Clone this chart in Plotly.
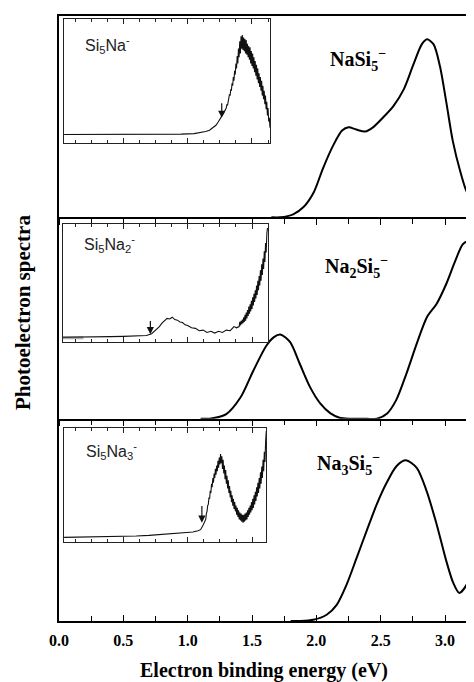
import plotly.graph_objects as go

# ---------------- data ----------------
TICK_VALS = [0.0, 0.5, 1.0, 1.5, 2.0, 2.5, 3.0]
TICK_TEXT = ["0.0", "0.5", "1.0", "1.5", "2.0", "2.5", "3.0"]

# NaSi5- (top panel)
TOP_E = [1.65, 1.72, 1.82, 1.90, 1.98, 2.05, 2.13, 2.20, 2.25, 2.31, 2.38, 2.44,
         2.52, 2.60, 2.68, 2.75, 2.82, 2.86, 2.91, 2.96, 3.01, 3.06, 3.12, 3.17, 3.225]
TOP_Y = [0.0, 0.0, 0.015, 0.051, 0.125, 0.241, 0.356, 0.431, 0.447, 0.436, 0.426, 0.447,
         0.497, 0.554, 0.637, 0.752, 0.860, 0.884, 0.860, 0.752, 0.571, 0.380, 0.224, 0.125, 0.076]

# Na2Si5- (middle panel)
MID_E = [1.10, 1.17, 1.30, 1.41, 1.51, 1.61, 1.67, 1.72, 1.795, 1.87, 1.95, 2.03, 2.11,
         2.18, 2.26, 2.36, 2.47, 2.55, 2.62, 2.70, 2.78, 2.86, 2.935, 3.01, 3.08, 3.14, 3.19, 3.225]
MID_Y = [0.0, 0.0, 0.023, 0.105, 0.238, 0.361, 0.405, 0.418, 0.381, 0.274, 0.158, 0.076, 0.026,
         0.005, 0.0, 0.0, 0.0, 0.026, 0.092, 0.224, 0.373, 0.505, 0.571, 0.670, 0.785, 0.868, 0.881, 0.868]

# Na3Si5- (bottom panel)
BOT_E = [1.80, 1.873, 1.976, 2.08, 2.158, 2.235, 2.313, 2.39, 2.469, 2.546, 2.624, 2.696,
         2.78, 2.857, 2.935, 3.01, 3.064, 3.11, 3.168, 3.225]
BOT_Y = [0.0, 0.0, 0.006, 0.031, 0.080, 0.180, 0.312, 0.444, 0.576, 0.683, 0.766, 0.794,
         0.757, 0.642, 0.477, 0.296, 0.188, 0.139, 0.180, 0.295]

# Inset spectra (energy, relative intensity), noisy parts read point by point
INSET_TOP = [(0.04, 0.065), (0.20, 0.065), (0.40, 0.066), (0.60, 0.066), (0.80, 0.067),
             (0.95, 0.068), (1.05, 0.072), (1.10, 0.080), (1.14, 0.090), (1.17, 0.100),
             (1.20, 0.120), (1.22, 0.140), (1.24, 0.170), (1.26, 0.200), (1.28, 0.240),
             (1.300, 0.28), (1.305, 0.31), (1.310, 0.30), (1.315, 0.34), (1.320, 0.35),
             (1.325, 0.39), (1.330, 0.38), (1.335, 0.43), (1.340, 0.42), (1.345, 0.48),
             (1.350, 0.46), (1.355, 0.53), (1.360, 0.50), (1.365, 0.58), (1.370, 0.55),
             (1.375, 0.64), (1.380, 0.60), (1.385, 0.70), (1.390, 0.64), (1.395, 0.76),
             (1.400, 0.69), (1.405, 0.82), (1.410, 0.72), (1.415, 0.86), (1.420, 0.76),
             (1.425, 0.87), (1.430, 0.75), (1.435, 0.85), (1.440, 0.74), (1.445, 0.84),
             (1.450, 0.72), (1.455, 0.83), (1.460, 0.71), (1.465, 0.80), (1.470, 0.69),
             (1.475, 0.78), (1.480, 0.67), (1.485, 0.77), (1.490, 0.64), (1.495, 0.74),
             (1.500, 0.62), (1.505, 0.72), (1.510, 0.60), (1.515, 0.69), (1.520, 0.57),
             (1.525, 0.66), (1.530, 0.54), (1.535, 0.63), (1.540, 0.51), (1.545, 0.60),
             (1.550, 0.48), (1.555, 0.56), (1.560, 0.45), (1.565, 0.53), (1.570, 0.42),
             (1.575, 0.50), (1.580, 0.38), (1.585, 0.46), (1.590, 0.35), (1.595, 0.42),
             (1.600, 0.31), (1.605, 0.38), (1.610, 0.27), (1.615, 0.33), (1.620, 0.22),
             (1.625, 0.28), (1.630, 0.17), (1.635, 0.20), (1.640, 0.12)]

INSET_MID = [(0.03, 0.040), (0.10, 0.040), (0.20, 0.042), (0.30, 0.043), (0.40, 0.045),
             (0.50, 0.047), (0.60, 0.050), (0.68, 0.055), (0.72, 0.070), (0.75, 0.100),
             (0.78, 0.130), (0.80, 0.160), (0.82, 0.180), (0.84, 0.200), (0.86, 0.195),
             (0.88, 0.210), (0.90, 0.190), (0.92, 0.185), (0.94, 0.170), (0.96, 0.165),
             (0.98, 0.145), (1.00, 0.140), (1.03, 0.120), (1.06, 0.115), (1.09, 0.095),
             (1.12, 0.100), (1.15, 0.080), (1.18, 0.090), (1.21, 0.075), (1.24, 0.090),
             (1.27, 0.080), (1.30, 0.100), (1.33, 0.095), (1.36, 0.130), (1.38, 0.120),
             (1.400, 0.13), (1.405, 0.17), (1.410, 0.14), (1.415, 0.18), (1.420, 0.15),
             (1.425, 0.19), (1.430, 0.16), (1.435, 0.21), (1.440, 0.17), (1.445, 0.23),
             (1.450, 0.18), (1.455, 0.25), (1.460, 0.20), (1.465, 0.27), (1.470, 0.22),
             (1.475, 0.30), (1.480, 0.24), (1.485, 0.32), (1.490, 0.26), (1.495, 0.35),
             (1.500, 0.28), (1.505, 0.38), (1.510, 0.31), (1.515, 0.41), (1.520, 0.34),
             (1.525, 0.44), (1.530, 0.37), (1.535, 0.48), (1.540, 0.40), (1.545, 0.52),
             (1.550, 0.44), (1.555, 0.56), (1.560, 0.48), (1.565, 0.61), (1.570, 0.52),
             (1.575, 0.66), (1.580, 0.57), (1.585, 0.71), (1.590, 0.62), (1.595, 0.77),
             (1.600, 0.68), (1.605, 0.84), (1.610, 0.76), (1.615, 0.92), (1.620, 0.97)]

INSET_BOT = [(0.04, 0.043), (0.20, 0.045), (0.40, 0.048), (0.60, 0.055), (0.70, 0.060),
             (0.80, 0.068), (0.90, 0.075), (0.98, 0.085), (1.04, 0.090), (1.08, 0.100),
             (1.10, 0.110), (1.12, 0.150),
             (1.140, 0.20), (1.145, 0.25), (1.150, 0.27), (1.155, 0.32), (1.160, 0.33),
             (1.165, 0.39), (1.170, 0.38), (1.175, 0.45), (1.180, 0.43), (1.185, 0.51),
             (1.190, 0.48), (1.195, 0.56), (1.200, 0.52), (1.205, 0.60), (1.210, 0.56),
             (1.215, 0.64), (1.220, 0.59), (1.225, 0.67), (1.230, 0.62), (1.235, 0.71),
             (1.240, 0.65), (1.245, 0.74), (1.250, 0.68), (1.255, 0.77), (1.260, 0.69),
             (1.265, 0.75), (1.270, 0.64), (1.275, 0.72), (1.280, 0.60), (1.285, 0.67),
             (1.290, 0.55), (1.295, 0.63), (1.300, 0.51), (1.305, 0.58), (1.310, 0.47),
             (1.315, 0.54), (1.320, 0.43), (1.325, 0.49), (1.330, 0.39), (1.335, 0.45),
             (1.340, 0.35), (1.345, 0.41), (1.350, 0.32), (1.355, 0.38), (1.360, 0.29),
             (1.365, 0.35), (1.370, 0.27), (1.375, 0.32), (1.380, 0.24), (1.385, 0.30),
             (1.390, 0.22), (1.395, 0.28), (1.400, 0.20), (1.405, 0.26), (1.410, 0.19),
             (1.415, 0.25), (1.420, 0.18), (1.425, 0.24), (1.430, 0.17), (1.435, 0.24),
             (1.440, 0.18), (1.445, 0.25), (1.450, 0.19), (1.455, 0.26), (1.460, 0.20),
             (1.465, 0.28), (1.470, 0.22), (1.475, 0.30), (1.480, 0.24), (1.485, 0.32),
             (1.490, 0.26), (1.495, 0.35), (1.500, 0.28), (1.505, 0.38), (1.510, 0.30),
             (1.515, 0.41), (1.520, 0.33), (1.525, 0.44), (1.530, 0.36), (1.535, 0.48),
             (1.540, 0.40), (1.545, 0.52), (1.550, 0.43), (1.555, 0.56), (1.560, 0.47),
             (1.565, 0.61), (1.570, 0.51), (1.575, 0.66), (1.580, 0.56), (1.585, 0.72),
             (1.590, 0.62), (1.595, 0.79), (1.600, 0.70), (1.605, 0.88), (1.610, 0.97)]

# threshold arrows: (energy, tail, tip)
ARROWS = [(1.265, 0.33, 0.20), (0.71, 0.19, 0.065), (1.11, 0.33, 0.17)]

MAIN_LABELS = ["NaSi<sub>5</sub><sup>−</sup>",
               "Na<sub>2</sub>Si<sub>5</sub><sup>−</sup>",
               "Na<sub>3</sub>Si<sub>5</sub><sup>−</sup>"]
INSET_LABELS = ["Si<sub>5</sub>Na<sup>-</sup>",
                "Si<sub>5</sub>Na<sub>2</sub><sup>-</sup>",
                "Si<sub>5</sub>Na<sub>3</sub><sup>-</sup>"]

SERIF = "Liberation Serif, Times New Roman, serif"
SANS = "Liberation Sans, Arial, sans-serif"

# ---------------- figure ----------------
fig = go.Figure()

line_main = dict(color="black", width=2, shape="spline", smoothing=0.8)
fig.add_trace(go.Scatter(x=TOP_E, y=TOP_Y, mode="lines", line=line_main, xaxis="x3", yaxis="y3"))
fig.add_trace(go.Scatter(x=MID_E, y=MID_Y, mode="lines", line=line_main, xaxis="x2", yaxis="y2"))
fig.add_trace(go.Scatter(x=BOT_E, y=BOT_Y, mode="lines", line=line_main, xaxis="x", yaxis="y"))

# gray baseline piece in the middle inset
fig.add_trace(go.Scatter(x=[0.03, 0.19], y=[0.036, 0.036], mode="lines",
                         line=dict(color="#b0b0b0", width=3), xaxis="x5", yaxis="y5"))

for data, xa, ya in [(INSET_TOP, "x4", "y4"), (INSET_MID, "x5", "y5"), (INSET_BOT, "x6", "y6")]:
    fig.add_trace(go.Scatter(x=[p[0] for p in data], y=[p[1] for p in data], mode="lines",
                             line=dict(color="#111111", width=1.1), xaxis=xa, yaxis=ya))

# panel domains
D_BOT = [0.0, 0.33443]
D_MID = [0.33443, 0.66722]
D_TOP = [0.66722, 1.0]
XR = [0, 3.225]

def main_x(anchor, ticks, labels, mirror=False):
    return dict(range=XR, domain=[0, 1], anchor=anchor, showline=True, linecolor="black", linewidth=1.5,
                showgrid=False, zeroline=False, ticks=ticks, ticklen=6, tickwidth=1.3, tickcolor="black",
                tickmode="array", tickvals=TICK_VALS, ticktext=TICK_TEXT, showticklabels=labels,
                minor=dict(tickmode="linear", tick0=0, dtick=0.25, ticks=ticks, ticklen=5,
                           tickwidth=1.3, tickcolor="black"),
                mirror=mirror)

def main_y(domain, anchor):
    return dict(domain=domain, anchor=anchor, range=[0, 1], showline=True, linecolor="black",
                linewidth=1.5, showgrid=False, zeroline=False, ticks="", showticklabels=False)

def inset_x(domain, anchor, rng):
    return dict(domain=domain, anchor=anchor, range=rng, showline=True, linecolor="#222222", linewidth=1.1,
                mirror="allticks", showgrid=False, zeroline=False, ticks="inside", tickmode="linear",
                tick0=0, dtick=0.5, ticklen=5, tickwidth=1, tickcolor="#222222", showticklabels=False,
                minor=dict(tickmode="linear", tick0=0, dtick=0.125, ticks="inside", ticklen=3,
                           tickwidth=1, tickcolor="#222222"))

def inset_y(domain, anchor):
    return dict(domain=domain, anchor=anchor, range=[0, 1], showline=True, linecolor="#222222", linewidth=1.1,
                mirror=True, showgrid=False, zeroline=False, ticks="", showticklabels=False)

xb = main_x("y", "inside", True)
xb.update(tickfont=dict(family=SERIF, size=16, color="black", weight="bold"), ticklabelstandoff=4)

# the page adds an 8px body margin, so the margins are shifted by 8px
fig.update_layout(
    width=474, height=682,
    margin=dict(l=51, r=8, t=6, b=69),
    paper_bgcolor="white", plot_bgcolor="rgba(0,0,0,0)",
    showlegend=False,
    xaxis=xb,
    yaxis=main_y(D_BOT, "x"),
    xaxis2=main_x("y2", "outside", False),
    yaxis2=main_y(D_MID, "x2"),
    xaxis3=main_x("y3", "outside", False, mirror=True),
    yaxis3=main_y(D_TOP, "x3"),
    xaxis4=inset_x([0.012, 0.5084], "y4", [0.039, 1.64]),
    yaxis4=inset_y([0.7908, 0.9951], "x4"),
    xaxis5=inset_x([0.0096, 0.5036], "y5", [0.031, 1.624]),
    yaxis5=inset_y([0.4613, 0.6557], "x5"),
    xaxis6=inset_x([0.012, 0.4988], "y6", [0.039, 1.608]),
    yaxis6=inset_y([0.1301, 0.3196], "x6"),
)

ann = []
for txt, x, y in zip(MAIN_LABELS, [0.648, 0.636, 0.617], [0.9275, 0.585, 0.2587]):
    ann.append(dict(text="<b>" + txt + "</b>", x=x, y=y, xref="paper", yref="paper",
                    xanchor="left", yanchor="middle", showarrow=False,
                    font=dict(family=SERIF, size=20, color="black")))
for txt, x, y in zip(INSET_LABELS, [0.0578, 0.0554, 0.060], [0.952, 0.6227, 0.2817]):
    ann.append(dict(text=txt, x=x, y=y, xref="paper", yref="paper",
                    xanchor="left", yanchor="middle", showarrow=False,
                    font=dict(family=SANS, size=16, color="#222222")))
for (e, tail, tip), xa, ya in zip(ARROWS, ["x4", "x5", "x6"], ["y4", "y5", "y6"]):
    ann.append(dict(text="", x=e, y=tip, xref=xa, yref=ya, ax=e, ay=tail, axref=xa, ayref=ya,
                    showarrow=True, arrowhead=2, arrowsize=1.2, arrowwidth=1.2, arrowcolor="#111111"))
ann.append(dict(text="<b>Photoelectron spectra</b>", x=-0.0867, y=0.509, xref="paper", yref="paper",
                textangle=-90, xanchor="center", yanchor="middle", showarrow=False,
                font=dict(family=SERIF, size=21, color="black")))
ann.append(dict(text="<b>Electron binding energy (eV)</b>", x=0.494, y=-0.0824, xref="paper", yref="paper",
                xanchor="center", yanchor="middle", showarrow=False,
                font=dict(family=SERIF, size=20, color="black")))
fig.update_layout(annotations=ann)

fig.write_html("out.html")
